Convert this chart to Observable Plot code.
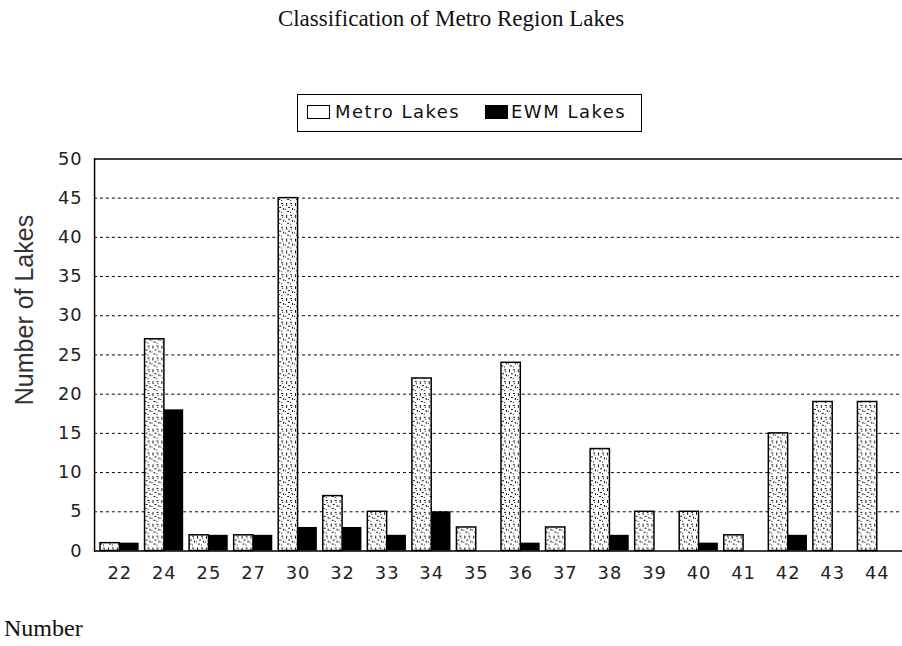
<!DOCTYPE html>
<html>
<head>
<meta charset="utf-8">
<script src="https://cdn.jsdelivr.net/npm/d3@7"></script>
<script src="https://cdn.jsdelivr.net/npm/@observablehq/plot@0.6"></script>
<style>
  html, body { margin: 0; padding: 0; background: #fff; }
  body { width: 902px; height: 646px; overflow: hidden; position: relative; }
  #title { position: absolute; top: 6px; left: 0; width: 902px; text-align: center;
           font: 23px "Liberation Serif", "Times New Roman", serif; color: #111; }
  #legend { position: absolute; left: 297px; top: 94px; width: 345px; height: 38px;
            border: 1.5px solid #000; box-sizing: border-box;
            font: 18px "DejaVu Sans", sans-serif; color: #111; letter-spacing: 1.5px; }
  #legend .sw { position: absolute; top: 10px; width: 23px; height: 14px; box-sizing: border-box;
                border: 1.5px solid #000; }
  #legend .lbl { position: absolute; top: 6px; white-space: nowrap; }
  #ylabel { position: absolute; left: 24px; top: 310px; transform: translate(-50%, -50%) rotate(-90deg);
            white-space: nowrap; font: 25px "Liberation Sans", Arial, sans-serif; color: #333; }
  #caption { position: absolute; left: 4px; top: 615px; font: 24px "Liberation Serif", "Times New Roman", serif; color: #111; }
  #chart { position: absolute; left: 0; top: 0; }
</style>
</head>
<body>
<div id="chart"></div>
<div id="title">Classification of Metro Region Lakes</div>
<div id="legend">
  <span class="sw" style="left:9px;background:#fff"></span><span class="lbl" style="left:37px">Metro Lakes</span>
  <span class="sw" style="left:187px;background:#000"></span><span class="lbl" style="left:213px">EWM Lakes</span>
</div>
<div id="ylabel">Number of Lakes</div>
<div id="caption">Number</div>
<script>
const categories = ["22","24","25","27","30","32","33","34","35","36","37","38","39","40","41","42","43","44"];
const metroLakes = [1, 27, 2, 2, 45, 7, 5, 22, 3, 24, 3, 13, 5, 5, 2, 15, 19, 19];
const ewmLakes   = [1, 18, 2, 2, 3, 3, 2, 5, 0, 1, 0, 2, 0, 1, 0, 2, 0, 0];
const yTicks = [0, 5, 10, 15, 20, 25, 30, 35, 40, 45, 50];

const data = categories.map((c, i) => ({cat: c, metro: metroLakes[i], ewm: ewmLakes[i]}));

const W = 911, ML = 95, MR = 0;
const pInner = 0.14, pOuter = 0.07;
const step = (W - ML - MR) / (categories.length - pInner + 2 * pOuter);
const half = step * (1 - pInner) / 2;

const svg = Plot.plot({
  width: W,
  height: 600,
  marginTop: 160,
  marginBottom: 44,
  marginLeft: ML,
  marginRight: MR,
  style: {fontFamily: "DejaVu Sans, sans-serif", background: "transparent", color: "#222"},
  x: {type: "band", domain: categories, paddingInner: pInner, paddingOuter: pOuter, label: null},
  y: {domain: [0, 50], label: null},
  marks: [
    Plot.ruleY(yTicks.filter(d => d > 0 && d < 50), {stroke: "#000", strokeWidth: 1, strokeDasharray: "3,3"}),
    Plot.ruleY([50], {stroke: "#000", strokeWidth: 1.5}),
    Plot.barY(data, {x: "cat", y: "metro", fill: "url(#speckle)", stroke: "#000", strokeWidth: 1.5, insetRight: half}),
    Plot.barY(data, {x: "cat", y: "ewm", fill: "#000", insetLeft: half}),
    Plot.ruleY([0], {stroke: "#000", strokeWidth: 1.5}),
    Plot.frame({anchor: "left", stroke: "#000", strokeWidth: 1.5}),
    Plot.axisY({ticks: yTicks, tickSize: 0, tickPadding: 12, fontSize: 18, label: null}),
    Plot.axisX({tickSize: 0, tickPadding: 15, fontSize: 18, label: null})
  ]
});

const defs = d3.select(svg).insert("defs", ":first-child");
const pat = defs.append("pattern").attr("id", "speckle").attr("patternUnits", "userSpaceOnUse")
  .attr("width", 9).attr("height", 12);
pat.append("rect").attr("width", 9).attr("height", 12).attr("fill", "#fff");
[[1,1,1,3],[5,1,2,1],[3,5,2,1],[7,6,1,2],[2,9,2,1],[6,3,1,1],[0,7,1,1],[5,10,1,1]].forEach(([x,y,w,h]) =>
  pat.append("rect").attr("x", x).attr("y", y).attr("width", w).attr("height", h).attr("fill", "#111"));

d3.select(svg).selectAll("g[aria-label='y-axis tick label'] text, g[aria-label='x-axis tick label'] text")
  .style("letter-spacing", "1px");

document.getElementById("chart").appendChild(svg);
</script>
</body>
</html>
